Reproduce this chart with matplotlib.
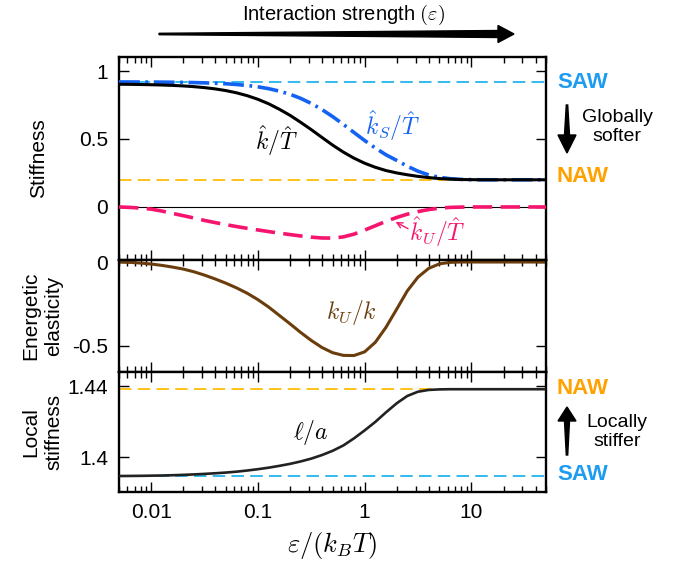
import matplotlib
matplotlib.use("Agg")
import matplotlib.pyplot as plt
from matplotlib.patches import Polygon
from matplotlib.ticker import LogLocator, NullFormatter

plt.rcParams['font.family'] = ['Liberation Sans', 'DejaVu Sans']
plt.rcParams['mathtext.fontset'] = 'cm'
plt.rcParams['axes.unicode_minus'] = False
plt.rcParams['lines.scale_dashes'] = False

# ---------------- DATA ----------------
# sample points, 10 per decade
eps = [0.005, 0.0063, 0.0079, 0.01, 0.0126, 0.0158, 0.02, 0.0251, 0.0316, 0.0398,
       0.0501, 0.0631, 0.0794, 0.1, 0.126, 0.158, 0.2, 0.251, 0.316, 0.398,
       0.501, 0.631, 0.794, 1.0, 1.26, 1.58, 2.0, 2.51, 3.16, 3.98,
       5.01, 6.31, 7.94, 10.0, 12.6, 15.8, 20.0, 25.1, 31.6, 39.8, 50.0]

k_T = [0.9027, 0.9018, 0.9007, 0.8991, 0.8970, 0.8941, 0.8902, 0.8849, 0.8779, 0.8684,
       0.8560, 0.8396, 0.8186, 0.7920, 0.7591, 0.7197, 0.6740, 0.6231, 0.5690, 0.5116,
       0.4552, 0.4038, 0.3591, 0.3218, 0.2917, 0.2682, 0.2503, 0.2368, 0.2250, 0.2160,
       0.2090, 0.2050, 0.2020, 0.2010, 0.2, 0.2, 0.2, 0.2, 0.2, 0.2, 0.2]
kS_T = [0.9195, 0.9193, 0.9190, 0.9186, 0.9181, 0.9173, 0.9163, 0.9149, 0.9128, 0.9100,
        0.9062, 0.9008, 0.8936, 0.8836, 0.8702, 0.8524, 0.8290, 0.7991, 0.7617, 0.7168,
        0.6649, 0.6077, 0.5480, 0.4889, 0.4336, 0.3843, 0.3420, 0.3000, 0.2630, 0.2360,
        0.2180, 0.2080, 0.2030, 0.2010, 0.2, 0.2, 0.2, 0.2, 0.2, 0.2, 0.2]
kU_T = [0.0, -0.003, -0.008, -0.016, -0.030, -0.047, -0.064, -0.081, -0.099, -0.115,
        -0.130, -0.144, -0.157, -0.169, -0.181, -0.192, -0.203, -0.213, -0.222, -0.228,
        -0.229, -0.220, -0.200, -0.170, -0.138, -0.106, -0.077, -0.053, -0.034, -0.019,
        -0.009, -0.003, -0.001, 0.0, 0.0, 0.0, 0.0, 0.0, 0.0, 0.0, 0.0]
kU_k = [0.0, -0.002, -0.006, -0.012, -0.020, -0.030, -0.042, -0.058, -0.078, -0.101,
        -0.126, -0.154, -0.186, -0.224, -0.268, -0.317, -0.368, -0.419, -0.467, -0.509,
        -0.540, -0.556, -0.557, -0.535, -0.478, -0.390, -0.280, -0.172, -0.090, -0.038,
        -0.011, -0.002, 0.0, 0.0, 0.0, 0.0, 0.0, 0.0, 0.0, 0.0, 0.0]
l_a = [1.38930, 1.38935, 1.38940, 1.38950, 1.38960, 1.38975, 1.38995, 1.39020, 1.39050, 1.39085,
       1.39125, 1.39175, 1.39240, 1.39315, 1.39400, 1.39500, 1.39615, 1.39750, 1.39910, 1.40110,
       1.40350, 1.40650, 1.41050, 1.41500, 1.41980, 1.42510, 1.43030, 1.43440, 1.43680, 1.43780,
       1.43810, 1.43820, 1.43820, 1.43820, 1.43820, 1.43820, 1.43820, 1.43820, 1.43820, 1.43820, 1.43820]

SAW_k, NAW_k = 0.92, 0.20
NAW_l, SAW_l = 1.4382, 1.3893

xticks = [0.01, 0.1, 1, 10]
xticklabels = ['0.01', '0.1', '1', '10']

# ---------------- STYLE ----------------
C_SAW = '#33BBEE'
C_NAW = '#FFC21A'
C_SAW_TXT = '#1E9CF2'
C_NAW_TXT = '#FFA200'
C_BLUE = '#1462F2'
C_PINK = '#F5146E'
C_BROWN = '#6B3D0C'

W, H = 688, 572
fig = plt.figure(figsize=(W / 100, H / 100), dpi=100)


def px(x, y):
    return x / W, 1 - y / H


def make_ax(top, bottom):
    ax = fig.add_axes([119 / W, 1 - bottom / H, 427 / W, (bottom - top) / H])
    ax.set_xscale('log')
    ax.set_xlim(0.005, 50)
    ax.xaxis.set_major_locator(LogLocator(base=10, numticks=10))
    ax.xaxis.set_minor_locator(LogLocator(base=10, subs=range(2, 10), numticks=20))
    ax.xaxis.set_minor_formatter(NullFormatter())
    ax.tick_params(which='both', direction='in', top=True, right=True, labelsize=15, pad=8)
    ax.tick_params(which='major', length=7, width=1)
    ax.tick_params(which='minor', length=4, width=1)
    for s in ax.spines.values():
        s.set_linewidth(1.7)
    return ax


ax1 = make_ax(57, 260)
ax2 = make_ax(260, 372)
ax3 = make_ax(372, 492)

# top panel
ax1.axhline(0, color='black', lw=0.8, zorder=1)
ax1.axhline(SAW_k, color=C_SAW, lw=1.4, dashes=(9, 4.5), zorder=2)
ax1.axhline(NAW_k, color=C_NAW, lw=1.4, dashes=(9, 4.5), zorder=2)
ax1.plot(eps, kS_T, color=C_BLUE, lw=2.6, dashes=(15, 4, 2, 4), zorder=3)
ax1.plot(eps, kU_T, color=C_PINK, lw=2.6, dashes=(14, 6), zorder=3)
ax1.plot(eps, k_T, color='black', lw=2.2, zorder=4)
ax1.set_ylim(-0.39, 1.103)
ax1.set_yticks([0, 0.5, 1], ['0', '0.5', '1'])
ax1.set_xticks(xticks, [])
ax1.set_ylabel('Stiffness', fontsize=15)
ax1.yaxis.set_label_coords(-0.166, 0.5)

ax1.text(0.148, 0.49, r'$\hat{k}/\hat{T}$', fontsize=17, ha='center', va='center')
ax1.text(1.83, 0.60, r'$\hat{k}_S/\hat{T}$', fontsize=17, ha='center', va='center', color=C_BLUE)
ax1.text(4.8, -0.18, r'$\hat{k}_U/\hat{T}$', fontsize=17, ha='center', va='center', color=C_PINK)
ax1.annotate('', xy=(1.95, -0.11), xytext=(2.55, -0.16),
             arrowprops=dict(arrowstyle='->', color=C_PINK, lw=1.0, shrinkA=0, shrinkB=0))

# middle panel
ax2.plot(eps, kU_k, color=C_BROWN, lw=2.2)
ax2.set_ylim(-0.655, 0.012)
ax2.set_yticks([0, -0.5], ['0', '-0.5'])
ax2.set_xticks(xticks, [])
ax2.set_ylabel('Energetic\nelasticity', fontsize=15, linespacing=1.3)
ax2.yaxis.set_label_coords(-0.13, 0.5)
ax2.text(0.76, -0.30, r'$k_U/k$', fontsize=17, ha='center', va='center', color=C_BROWN)

# bottom panel
ax3.axhline(NAW_l, color=C_NAW, lw=1.4, dashes=(9, 4.5), zorder=2)
ax3.axhline(SAW_l, color=C_SAW, lw=1.4, dashes=(9, 4.5), zorder=2)
ax3.plot(eps, l_a, color='#222222', lw=1.9, zorder=3)
ax3.set_ylim(1.3803, 1.4479)
ax3.set_yticks([1.4, 1.44], ['1.4', '1.44'])
ax3.set_xticks(xticks, xticklabels)
ax3.set_ylabel('Local\nstiffness', fontsize=15, linespacing=1.3)
ax3.yaxis.set_label_coords(-0.13, 0.5)
ax3.set_xlabel(r'$\varepsilon/(k_BT)$', fontsize=19, labelpad=6)
ax3.text(0.31, 1.4141, r'$\ell/a$', fontsize=17, ha='center', va='center')

# top caption + tapered arrow
fig.text(*px(343, 15), r'Interaction strength $(\varepsilon)$', fontsize=14.5, ha='center', va='center')
yc = 34
arrow_top = [(159, yc - 0.7), (498, yc - 3.5), (498, yc - 8.5), (514, yc),
             (498, yc + 8.5), (498, yc + 3.5), (159, yc + 0.7)]
fig.patches.append(Polygon([px(*p) for p in arrow_top], closed=True, color='black',
                           transform=fig.transFigure, figure=fig))

# right side labels
fig.text(*px(557, 82), 'SAW', fontsize=16, fontweight='bold', color=C_SAW_TXT, ha='left', va='center')
fig.text(*px(557, 177), 'NAW', fontsize=16, fontweight='bold', color=C_NAW_TXT, ha='left', va='center')
fig.text(*px(617, 127), 'Globally\nsofter', fontsize=14, ha='center', va='center', linespacing=1.15)
xa = 567
arrow_dn = [(xa - 0.7, 105), (xa - 2.5, 135), (xa - 9, 135), (xa, 153),
            (xa + 9, 135), (xa + 2.5, 135), (xa + 0.7, 105)]
fig.patches.append(Polygon([px(*p) for p in arrow_dn], closed=True, color='black',
                           transform=fig.transFigure, figure=fig))

fig.text(*px(557, 388), 'NAW', fontsize=16, fontweight='bold', color=C_NAW_TXT, ha='left', va='center')
fig.text(*px(557, 475), 'SAW', fontsize=16, fontweight='bold', color=C_SAW_TXT, ha='left', va='center')
fig.text(*px(617, 432), 'Locally\nstiffer', fontsize=14, ha='center', va='center', linespacing=1.15)
arrow_up = [(xa, 407), (xa + 9, 421), (xa + 2.5, 421), (xa + 0.7, 455),
            (xa - 0.7, 455), (xa - 2.5, 421), (xa - 9, 421)]
fig.patches.append(Polygon([px(*p) for p in arrow_up], closed=True, color='black',
                           transform=fig.transFigure, figure=fig))

fig.savefig('out.png', dpi=100)
